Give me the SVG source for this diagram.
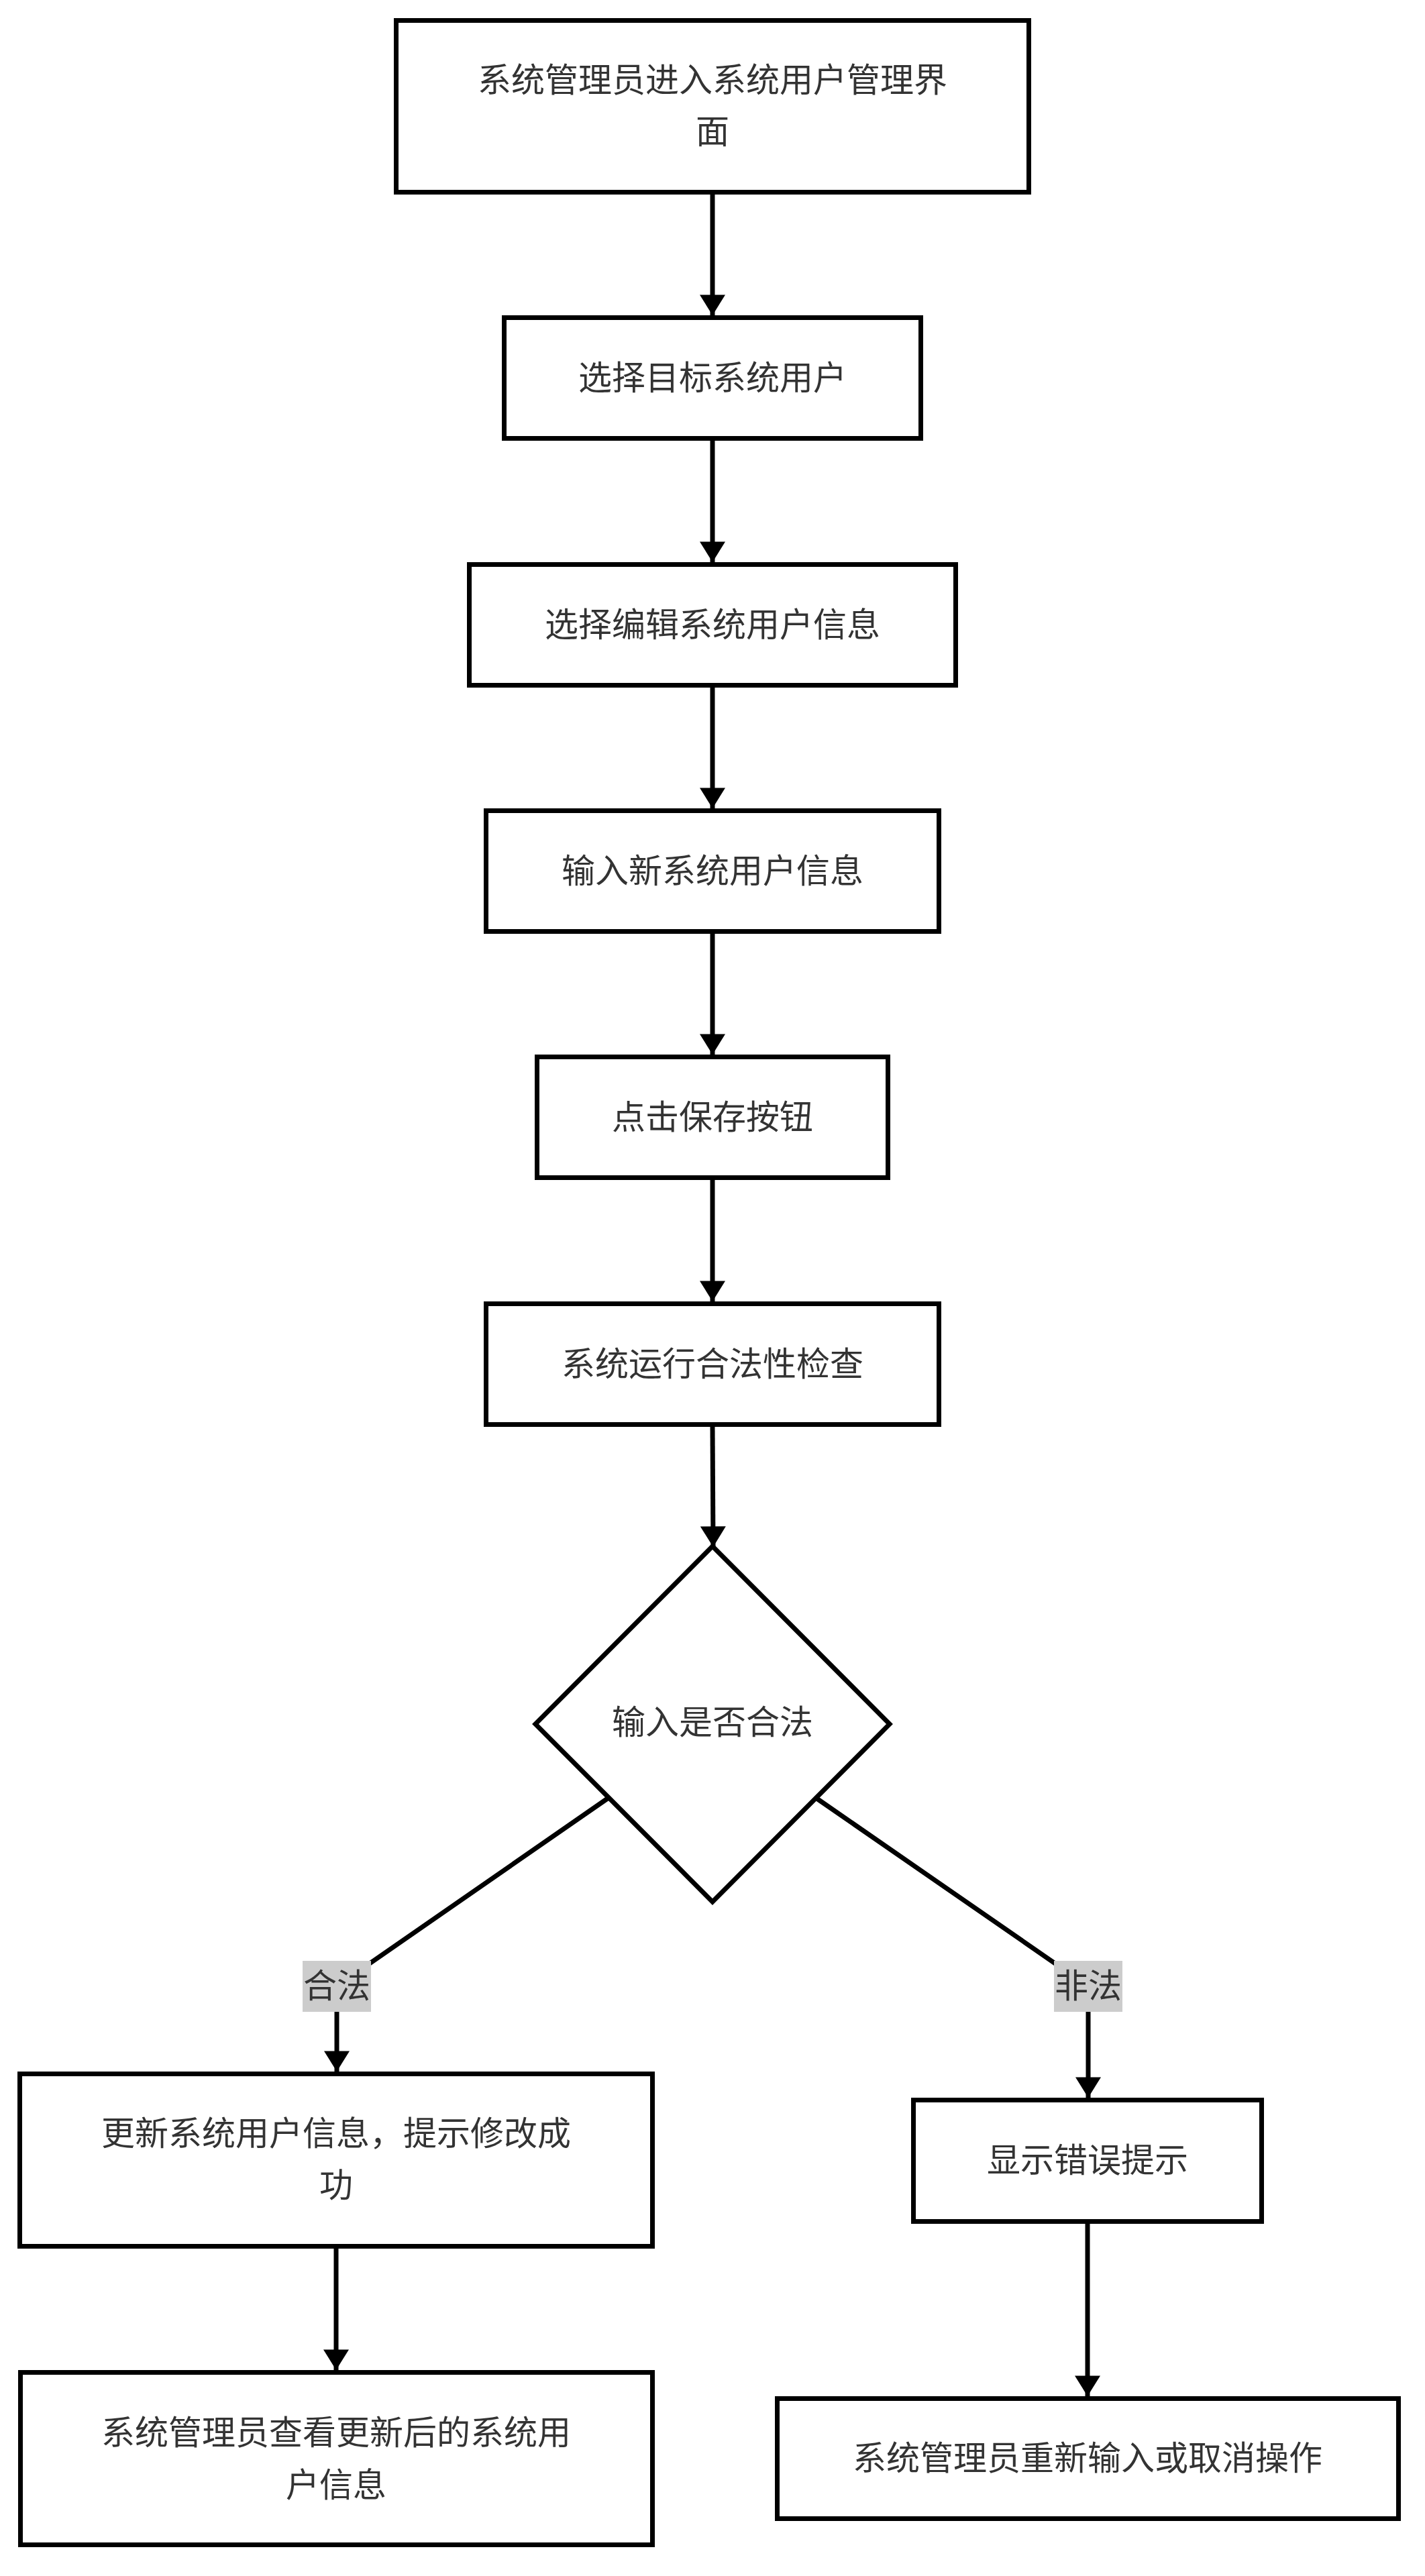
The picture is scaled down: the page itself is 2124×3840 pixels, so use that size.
<svg xmlns="http://www.w3.org/2000/svg" width="2124" height="3840" viewBox="0 0 2124 3840">
<style>
  .box{fill:#ffffff;stroke:#000000;stroke-width:7}
  .t{font-family:"Liberation Sans","Noto Sans CJK SC",sans-serif;font-size:50px;fill:#333333;text-anchor:middle;dominant-baseline:central}
  .edge{fill:none;stroke:#000000;stroke-width:7}
  .lbl{fill:#cccccc}
</style>
<defs>
  <marker id="arr" markerUnits="userSpaceOnUse" markerWidth="46" markerHeight="38" refX="37" refY="23" orient="auto" viewBox="0 0 38 46">
    <path d="M0,0 L37,23 L0,46 Z" fill="#000000"/>
  </marker>
</defs>
<rect x="0" y="0" width="2124" height="3840" fill="#ffffff"/>
<g id="connectors">
  <path class="edge" d="M1062,290 L1062,470" marker-end="url(#arr)"/>
  <path class="edge" d="M1062,657 L1062,838" marker-end="url(#arr)"/>
  <path class="edge" d="M1062,1025 L1062,1205" marker-end="url(#arr)"/>
  <path class="edge" d="M1062,1392 L1062,1572" marker-end="url(#arr)"/>
  <path class="edge" d="M1062,1759 L1062,1940" marker-end="url(#arr)"/>
  <path class="edge" d="M1062,2127 L1063,2306" marker-end="url(#arr)"/>
  <path class="edge" d="M907,2680 L502,2961 L502,3088" marker-end="url(#arr)"/>
  <path class="edge" d="M1216,2680 L1622,2961 L1622,3127" marker-end="url(#arr)"/>
  <path class="edge" d="M501,3352 L501,3533" marker-end="url(#arr)"/>
  <path class="edge" d="M1621,3315 L1621,3572" marker-end="url(#arr)"/>
  <g id="label-legal">
    <rect class="lbl" x="451" y="2923" width="102" height="76"/>
    <text class="t" x="502" y="2961">合法</text>
  </g>
  <g id="label-illegal">
    <rect class="lbl" x="1571" y="2923" width="102" height="76"/>
    <text class="t" x="1622" y="2961">非法</text>
  </g>
</g>
<g id="n1">
  <rect class="box" x="590.5" y="30.5" width="943" height="256"/>
  <text class="t" x="1062" y="120">系统管理员进入系统用户管理界</text>
  <text class="t" x="1062" y="197">面</text>
</g>
<g id="n2">
  <rect class="box" x="751.5" y="473.5" width="621" height="180"/>
  <text class="t" x="1062" y="563.5">选择目标系统用户</text>
</g>
<g id="n3">
  <rect class="box" x="699.5" y="841.5" width="725" height="180"/>
  <text class="t" x="1062" y="931.5">选择编辑系统用户信息</text>
</g>
<g id="n4">
  <rect class="box" x="724.5" y="1208.5" width="675" height="180"/>
  <text class="t" x="1062" y="1298.5">输入新系统用户信息</text>
</g>
<g id="n5">
  <rect class="box" x="800.5" y="1575.5" width="523" height="180"/>
  <text class="t" x="1062" y="1665.5">点击保存按钮</text>
</g>
<g id="n6">
  <rect class="box" x="724.5" y="1943.5" width="675" height="180"/>
  <text class="t" x="1062" y="2033.5">系统运行合法性检查</text>
</g>
<g id="n7">
  <polygon class="box" points="1062,2305 1326,2570 1062,2835 798,2570"/>
  <text class="t" x="1062" y="2568">输入是否合法</text>
</g>
<g id="n8">
  <rect class="box" x="29.5" y="3091.5" width="943" height="257"/>
  <text class="t" x="501" y="3181">更新系统用户信息，提示修改成</text>
  <text class="t" x="501" y="3258">功</text>
</g>
<g id="n9">
  <rect class="box" x="30.5" y="3536.5" width="942" height="257"/>
  <text class="t" x="501" y="3627">系统管理员查看更新后的系统用</text>
  <text class="t" x="501" y="3705">户信息</text>
</g>
<g id="n10">
  <rect class="box" x="1361.5" y="3130.5" width="519" height="181"/>
  <text class="t" x="1621" y="3221">显示错误提示</text>
</g>
<g id="n11">
  <rect class="box" x="1158.5" y="3575.5" width="926" height="179"/>
  <text class="t" x="1621" y="3665">系统管理员重新输入或取消操作</text>
</g>
</svg>
